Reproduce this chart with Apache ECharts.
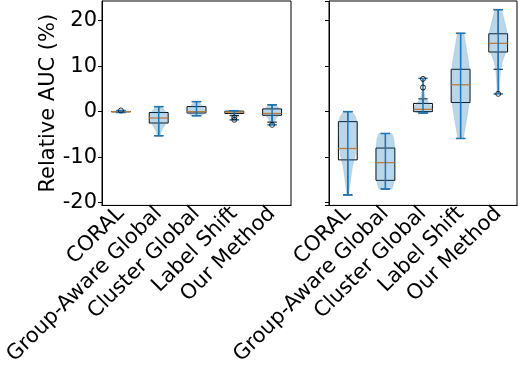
<!DOCTYPE html>
<html>
<head>
<meta charset="utf-8">
<script src="https://cdn.jsdelivr.net/npm/echarts@6/dist/echarts.min.js"></script>
<style>
html, body { margin:0; padding:0; background:#fff; }
#chart { width:518px; height:368px; }
</style>
</head>
<body>
<div id="chart"></div>
<script>
var methods = ['CORAL', 'Group-Aware Global', 'Cluster Global', 'Label Shift', 'Our Method'];
var yTicks = [-20, -10, 0, 10, 20];

// box stats: [lower whisker, q1, median, q3, upper whisker]
var boxLeft = [
    [-0.1, -0.05, 0, 0.03, 0.1],
    [-5.3, -2.5, -1.4, -0.2, 1.1],
    [-0.9, -0.3, 0, 1.1, 2.2],
    [-0.9, -0.4, -0.1, 0.1, 0.2],
    [-2.3, -0.8, -0.4, 0.6, 1.5]
];
var boxRight = [
    [-18.3, -10.6, -8.1, -2.2, 0],
    [-17.0, -15.1, -11.2, -8.0, -4.8],
    [-0.3, 0, 0.5, 1.8, 2.8],
    [-5.9, 2.0, 5.9, 9.3, 17.2],
    [9.3, 13.1, 15.0, 17.1, 22.4]
];
// outliers: [category index, value]
var outLeft = [[0, 0.25], [3, -1.3], [3, -1.8], [4, -2.9]];
var outRight = [[2, 5.3], [2, 7.2], [4, 3.9]];

// violin shapes: [value, relative width]
var violinLeft = [
    [[-0.2, 0.3], [0, 1], [0.25, 0.3]],
    [[-5.3, 0.15], [-4, 0.35], [-3, 0.65], [-2, 0.95], [-1, 1], [0, 0.75], [1.1, 0.3]],
    [[-0.9, 0.4], [-0.5, 0.8], [0, 1], [0.5, 0.9], [1.5, 0.5], [2.2, 0.2]],
    [[-1.8, 0.1], [-1.3, 0.15], [-0.8, 0.25], [-0.4, 0.6], [0, 1], [0.2, 0.85]],
    [[-2.9, 0.1], [-2.3, 0.2], [-1.5, 0.4], [-0.5, 0.9], [0, 1], [0.5, 0.9], [1.5, 0.3]]
];
var violinRight = [
    [[-18.3, 0.1], [-15, 0.3], [-12, 0.5], [-10, 0.75], [-7, 0.95], [-4, 1], [-2, 0.95], [-1, 0.8], [0, 0.45]],
    [[-17, 0.7], [-16, 0.85], [-15, 0.95], [-12, 1], [-8, 1], [-6, 0.9], [-4.8, 0.7]],
    [[-0.3, 0.6], [0, 0.9], [0.5, 1], [1, 0.95], [2, 0.6], [3, 0.25], [4, 0.15], [5.3, 0.12], [7.3, 0.1]],
    [[-5.9, 0.3], [-4, 0.45], [-1, 0.7], [2, 0.9], [5, 1], [8, 1], [11, 0.85], [14, 0.6], [17.2, 0.35]],
    [[3.9, 0.15], [6, 0.15], [9, 0.25], [11, 0.45], [13, 0.8], [15, 1], [17, 1], [20, 0.65], [22.4, 0.35]]
];

var BLUE = '#1f77b4', ORANGE = '#ff7f0e';
var FONT = 'DejaVu Sans';

function boxSeries(g, boxes) {
    return {
        type: 'custom', xAxisIndex: g, yAxisIndex: g,
        data: boxes.map(function (b, i) { return [i].concat(b); }),
        encode: { x: 0, y: [1, 5] },
        renderItem: function (params, api) {
            var i = api.value(0);
            var band = api.size([1, 0])[0];
            var hw = band * 0.25, cw = band * 0.125;
            var lo = api.coord([i, api.value(1)]), q1 = api.coord([i, api.value(2)]);
            var md = api.coord([i, api.value(3)]), q3 = api.coord([i, api.value(4)]);
            var hi = api.coord([i, api.value(5)]);
            var x = lo[0];
            var st = { stroke: '#000', lineWidth: 1, fill: null };
            return { type: 'group', children: [
                { type: 'rect', shape: { x: x - hw, y: q3[1], width: hw * 2, height: q1[1] - q3[1] }, style: st },
                { type: 'line', shape: { x1: x, y1: q1[1], x2: x, y2: lo[1] }, style: st },
                { type: 'line', shape: { x1: x, y1: q3[1], x2: x, y2: hi[1] }, style: st },
                { type: 'line', shape: { x1: x - cw, y1: lo[1], x2: x + cw, y2: lo[1] }, style: st },
                { type: 'line', shape: { x1: x - cw, y1: hi[1], x2: x + cw, y2: hi[1] }, style: st },
                { type: 'line', shape: { x1: x - hw, y1: md[1], x2: x + hw, y2: md[1] }, style: { stroke: ORANGE, lineWidth: 1.3 } }
            ] };
        }
    };
}

function outlierSeries(g, pts) {
    return {
        type: 'scatter', xAxisIndex: g, yAxisIndex: g, data: pts,
        symbol: 'circle', symbolSize: 5,
        itemStyle: { color: 'rgba(0,0,0,0)', borderColor: '#000', borderWidth: 1 }
    };
}

function violinSeries(g, profiles) {
    return {
        type: 'custom', xAxisIndex: g, yAxisIndex: g,
        data: profiles.map(function (p, i) { return [i, p[0][0], p[p.length - 1][0]]; }),
        encode: { x: 0, y: [1, 2] },
        renderItem: function (params, api) {
            var i = api.value(0);
            var prof = profiles[i];
            var band = api.size([1, 0])[0];
            var hw = band * 0.25, cw = band * 0.125;
            var x = api.coord([i, 0])[0];
            var left = [], right = [];
            prof.forEach(function (p) {
                var y = api.coord([i, p[0]])[1];
                left.push([x - hw * p[1], y]);
                right.unshift([x + hw * p[1], y]);
            });
            var yMin = api.coord([i, prof[0][0]])[1];
            var yMax = api.coord([i, prof[prof.length - 1][0]])[1];
            var ls = { stroke: BLUE, lineWidth: 1.5 };
            return { type: 'group', children: [
                { type: 'polygon', shape: { points: left.concat(right) }, style: { fill: 'rgba(31,119,180,0.3)', stroke: 'rgba(31,119,180,0.3)', lineWidth: 0.5 } },
                { type: 'line', shape: { x1: x, y1: yMin, x2: x, y2: yMax }, style: ls },
                { type: 'line', shape: { x1: x - cw, y1: yMin, x2: x + cw, y2: yMin }, style: ls },
                { type: 'line', shape: { x1: x - cw, y1: yMax, x2: x + cw, y2: yMax }, style: ls }
            ] };
        }
    };
}

function xAxis(g) {
    return {
        type: 'category', gridIndex: g, data: methods,
        axisLine: { onZero: false, lineStyle: { color: '#000', width: 1 } },
        axisTick: { alignWithLabel: true, length: 4, lineStyle: { color: '#000' } },
        axisLabel: { rotate: 45, interval: 0, margin: 5, fontSize: 21, fontFamily: FONT, color: '#000' },
        splitLine: { show: false }
    };
}

function yAxis(g, showLabels) {
    return {
        type: 'value', gridIndex: g, min: -20.6, max: 24.3,
        name: showLabels ? 'Relative AUC (%)' : '',
        nameLocation: 'middle', nameGap: 39,
        nameTextStyle: { fontSize: 21, fontFamily: FONT, color: '#000' },
        axisLine: { show: true, lineStyle: { color: '#000', width: 1 } },
        axisTick: { show: true, length: 4, lineStyle: { color: '#000' } },
        axisLabel: {
            show: showLabels, margin: 5, fontSize: 21, fontFamily: FONT, color: '#000',
            showMinLabel: false, showMaxLabel: false,
            formatter: function (v) { return yTicks.indexOf(v) >= 0 ? String(v) : ''; }
        },
        splitLine: { show: false }
    };
}

var chart = echarts.init(document.getElementById('chart'), null, { renderer: 'canvas' });
chart.setOption({
    animation: false,
    grid: [
        { left: 102, top: 1, width: 189, height: 206, show: true, borderColor: '#000', borderWidth: 1 },
        { left: 329, top: 1, width: 188, height: 206, show: true, borderColor: '#000', borderWidth: 1 }
    ],
    xAxis: [xAxis(0), xAxis(1)],
    yAxis: [yAxis(0, true), yAxis(1, false)],
    series: [
        boxSeries(0, boxLeft), outlierSeries(0, outLeft), violinSeries(0, violinLeft),
        boxSeries(1, boxRight), outlierSeries(1, outRight), violinSeries(1, violinRight)
    ]
});
</script>
</body>
</html>
